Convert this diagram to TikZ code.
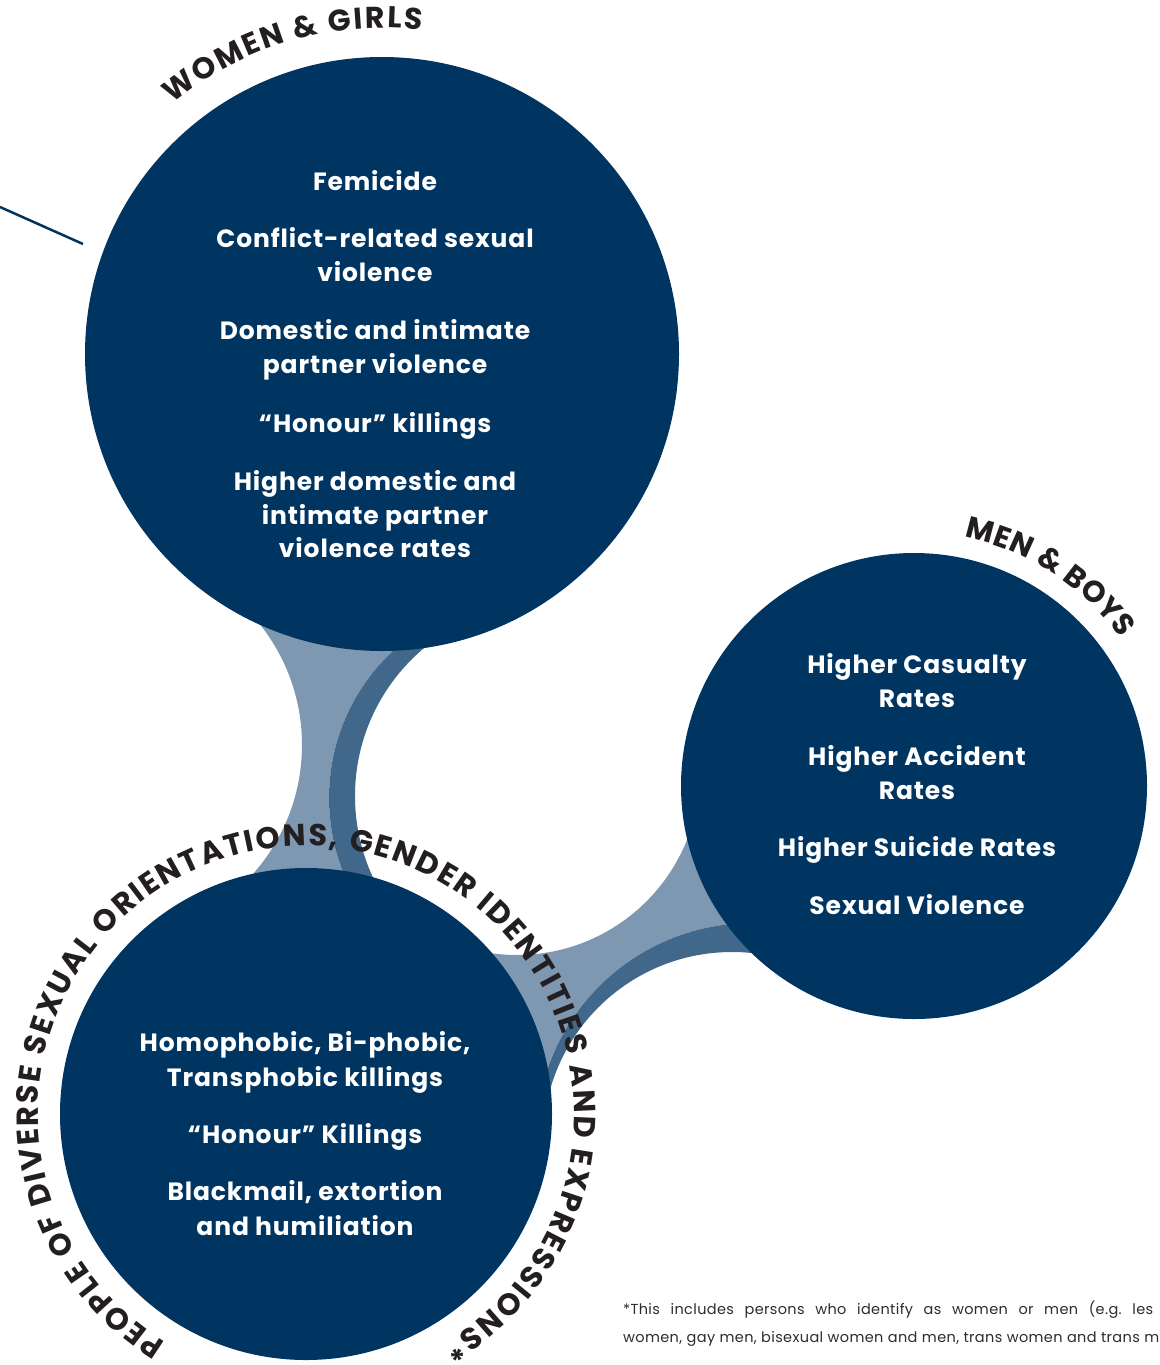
\documentclass[tikz,border=0pt]{standalone}
\usepackage{fontspec}
\setmainfont{Poppins}
\newfontfamily\itemfont{Poppins}[LetterSpace=3.5]
\newfontfamily\footfont{Poppins}[LetterSpace=2.5]
\usetikzlibrary{decorations.text}
\definecolor{navy}{RGB}{0,52,97}
\definecolor{bridgelight}{RGB}{127,152,177}
\definecolor{bridgedark}{RGB}{65,103,138}
\definecolor{labgray}{RGB}{35,31,32}
\definecolor{footgray}{RGB}{45,45,45}
\newcommand\arclabfont{\bfseries\fontsize{30}{30}\selectfont\color{labgray}}
\newcommand\arclabbig{\bfseries\fontsize{30.5}{30}\selectfont\color{labgray}}
\frenchspacing
\begin{document}
\begin{tikzpicture}[x=1pt,y=1pt,
  bubble/.style={circle, fill=navy, draw=none, inner sep=0pt},
  item/.style={text=white, font=\itemfont\bfseries\fontsize{25}{30}\selectfont, anchor=base, inner sep=0pt},
  foot/.style={text=footgray, font=\footfont\fontsize{14.5}{16}\selectfont, anchor=base west, inner sep=0pt},
  arclabel/.style={decorate, decoration={text along path, text align=fit to path, text={#1}}}]
\useasboundingbox (0,0) rectangle (1159,-1365);
\fill[white] (0,0) rectangle (1159,-1365);

% bridge between top and bottom circles: light part
\begin{scope}
  \clip (250,-600) -- (470,-600) -- (470,-895) -- (230,-895) -- cycle;
  \fill[bridgelight, even odd rule] (200,-590) rectangle (480,-905)
    (108,-745) circle[radius=194pt] (530,-798) circle[radius=201pt];
\end{scope}
% dark band
\begin{scope}
  \clip (200,-590) rectangle (475,-905);
  \fill[bridgedark, even odd rule] (530,-798) circle[radius=201pt] (548,-796) circle[radius=193pt];
\end{scope}

% bridge between bottom and right circles: light part
\begin{scope}
  \clip (480,-810) rectangle (790,-1110);
  \fill[bridgelight, even odd rule] (470,-800) rectangle (800,-1120)
    (517,-772) circle[radius=183pt] (752,-1139) circle[radius=216pt];
\end{scope}
% dark band
\begin{scope}
  \clip (470,-800) rectangle (805,-1125);
  \fill[bridgedark, even odd rule] (752,-1139) circle[radius=216pt] (732,-1141) circle[radius=189pt];
\end{scope}

% circles
\node[bubble, minimum size=594pt] (wg) at (382,-354) {};
\node[bubble, minimum size=466pt] (mb) at (914,-786) {};
\node[bubble, minimum size=492pt] (sg) at (306,-1114) {};

% line at top left
\coordinate (lnA) at (0,-207);
\coordinate (lnB) at (83,-244);
\draw[navy, line width=2.5pt] (lnA) -- (lnB);

% top circle texts
\node[item] (t1) at (375,-190.5) {Femicide};
\node[item] (t2) at (375,-247.5) {Conflict-related sexual};
\node[item] (t3) at (375,-281.5) {violence};
\node[item] (t4) at (375,-339) {Domestic and intimate};
\node[item] (t5) at (375,-373) {partner violence};
\node[item] (t6) at (375,-432) {“Honour” killings};
\node[item] (t7) at (375,-490.5) {Higher domestic and};
\node[item] (t8) at (375,-524) {intimate partner};
\node[item] (t9) at (375,-557.5) {violence rates};

% right circle texts
\node[item] (r1) at (917,-673.3) {Higher Casualty};
\node[item] (r2) at (917,-707.7) {Rates};
\node[item] (r3) at (917,-765) {Higher Accident};
\node[item] (r4) at (917,-799.3) {Rates};
\node[item] (r5) at (917,-856.7) {Higher Suicide Rates};
\node[item] (r6) at (917,-914) {Sexual Violence};

% bottom circle texts
\node[item] (b1) at (305,-1051.7) {Homophobic, Bi-phobic,};
\node[item] (b2) at (305,-1086.7) {Transphobic killings};
\node[item] (b3) at (305,-1143.7) {“Honour” Killings};
\node[item] (b4) at (305,-1200.7) {Blackmail, extortion};
\node[item] (b5) at (305,-1235.7) {and humiliation};

% curved labels
\path[arclabel={|\arclabfont|WOMEN {\&} GIRLS}]
  ([shift={(130:326pt)}]382,-354) arc[start angle=130, end angle=83, radius=326pt];
\path[arclabel={|\arclabfont|MEN {\&} BOYS}]
  ([shift={(78.5:254pt)}]914,-786) arc[start angle=78.5, end angle=35.5, radius=254pt];
\path[arclabel={|\arclabbig|PEOPLE OF DIVERSE SEXUAL ORIENTATIONS, GENDER IDENTITIES AND EXPRESSIONS*}]
  ([shift={(238.5:268pt)}]306,-1114) arc[start angle=238.5, end angle=-59.5, radius=268pt];

% footnote
\node[foot] (fn1) at (623,-1314) {\makebox[530pt][s]{*This includes persons who identify as women or men (e.g. les}};
\node[foot] (fn2) at (623,-1342) {\makebox[536pt][s]{women, gay men, bisexual women and men, trans women and trans m}};
\end{tikzpicture}
\end{document}
